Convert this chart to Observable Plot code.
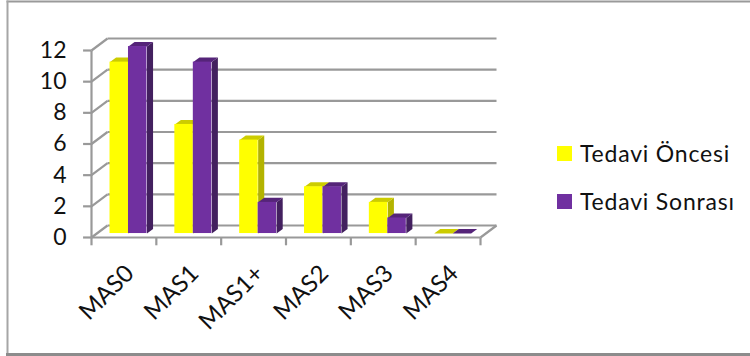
<!DOCTYPE html>
<html>
<head>
<meta charset="utf-8">
<script src="https://cdn.jsdelivr.net/npm/d3@7"></script>
<script src="https://cdn.jsdelivr.net/npm/@observablehq/plot@0.6"></script>
<style>
  html, body { margin: 0; padding: 0; background: #fff; overflow: hidden; }
  #chart { position: relative; width: 750px; height: 356px; font-family: Lato, sans-serif; }
  #chart svg { display: block; }
  .legend { position: absolute; left: 557px; top: 135px; font-size: 23px; letter-spacing: 0.8px; color: #111; }
  .legend div { display: flex; align-items: center; height: 36px; margin-bottom: 12px; white-space: nowrap; }
  .legend i { width: 15px; height: 15px; margin-right: 8px; display: block; }
</style>
</head>
<body>
<div id="chart"></div>
<script>
const categories = ["MAS0", "MAS1", "MAS1+", "MAS2", "MAS3", "MAS4"];
const seriesNames = ["Tedavi Öncesi", "Tedavi Sonrası"];
const before = [11, 7, 6, 3, 2, 0];
const after = [12, 11, 2, 3, 1, 0];
const yTicks = [0, 2, 4, 6, 8, 10, 12];

const palette = [
  {front: "#ffff00", top: "#cccc00", side: "#b3b300"},
  {front: "#7030a0", top: "#552479", side: "#43205f"}
];

// Oblique projection: depth 0 is the front plane, depth 1 the back wall.
const shearX = 0.247, shearY = 0.77;
const project = (x, y, d) => ({x: x + shearX * d, y: y + shearY * d});

// Bar footprint inside a category slot and along the depth axis.
const barStart = 0.204, barWidth = 0.285, barNear = 0.33, barFar = 0.71;

const grey = "#999999";
const segment = (a, b) => ({x1: a.x, y1: a.y, x2: b.x, y2: b.y});

const walls = [
  ...yTicks.map((v) => segment(project(0, v, 1), project(categories.length, v, 1))),
  ...yTicks.map((v) => segment(project(0, v, 0), project(0, v, 1))),
  ...yTicks.map((v) => segment(project(-0.13, v, 0), project(0, v, 0))),
  segment(project(0, 0, 0), project(0, 12, 0)),
  segment(project(categories.length, 0, 0), project(categories.length, 0, 1)),
  segment(project(0, 0, 0), project(categories.length, 0, 0)),
  ...d3.range(categories.length + 1).map((i) => segment(project(i, 0, 0), project(i, -0.5, 0)))
];

function barGeometry(values, s) {
  const fronts = [], faces = [];
  values.forEach((v, i) => {
    const x0 = i + barStart + s * barWidth, x1 = x0 + barWidth;
    const a = project(x0, 0, barNear), b = project(x1, 0, barNear);
    fronts.push({x1: a.x, x2: b.x, y1: a.y, y2: a.y + v});
    const poly = (name, color, corners) =>
      corners.forEach(([x, y, d]) => faces.push({id: `${i}-${name}`, color, ...project(x, y, d)}));
    poly("side", palette[s].side, [[x1, 0, barNear], [x1, 0, barFar], [x1, v, barFar], [x1, v, barNear]]);
    poly("top", palette[s].top, [[x0, v, barNear], [x1, v, barNear], [x1, v, barFar], [x0, v, barFar]]);
  });
  return {fronts, faces};
}

const series = [before, after].map(barGeometry);

const barMarks = series.flatMap(({fronts, faces}, s) => [
  Plot.line(faces, {x: "x", y: "y", z: "id", fill: "color", stroke: null}),
  Plot.rect(fronts, {x1: "x1", x2: "x2", y1: "y1", y2: "y2", fill: palette[s].front})
]);

const plot = Plot.plot({
  width: 750,
  height: 356,
  marginTop: 1,
  marginRight: 0,
  marginBottom: 2,
  marginLeft: 7,
  style: {background: "#fff", fontFamily: "Lato, sans-serif"},
  x: {type: "linear", domain: [0, categories.length], range: [91, 480], axis: null},
  y: {type: "linear", domain: [0, 12], range: [237, 50], axis: null},
  color: {type: "identity"},
  marks: [
    Plot.frame({anchor: "top", stroke: "#9a9a9a", strokeWidth: 2}),
    Plot.frame({anchor: "left", stroke: "#a6a6a6", strokeWidth: 2}),
    Plot.frame({anchor: "bottom", stroke: "#8c8c8c", strokeWidth: 3}),
    Plot.link(walls, {x1: "x1", y1: "y1", x2: "x2", y2: "y2", stroke: grey, strokeWidth: 2.2}),
    ...barMarks,
    Plot.text(yTicks, {x: 0, y: (d) => d, text: (d) => String(d), dx: -25, textAnchor: "end", fontSize: 23, fill: "#111"}),
    Plot.text(categories, {
      x: (d, i) => i + 0.5,
      y: 0,
      text: (d) => d,
      dx: 6,
      dy: 32,
      rotate: -45,
      textAnchor: "end",
      lineAnchor: "middle",
      fontSize: 24,
      fill: "#111"
    })
  ]
});

const root = document.getElementById("chart");
root.append(plot);

const legend = document.createElement("div");
legend.className = "legend";
seriesNames.forEach((name, s) => {
  const row = document.createElement("div");
  const swatch = document.createElement("i");
  swatch.style.background = palette[s].front;
  row.append(swatch, name);
  legend.append(row);
});
root.append(legend);
</script>
</body>
</html>
